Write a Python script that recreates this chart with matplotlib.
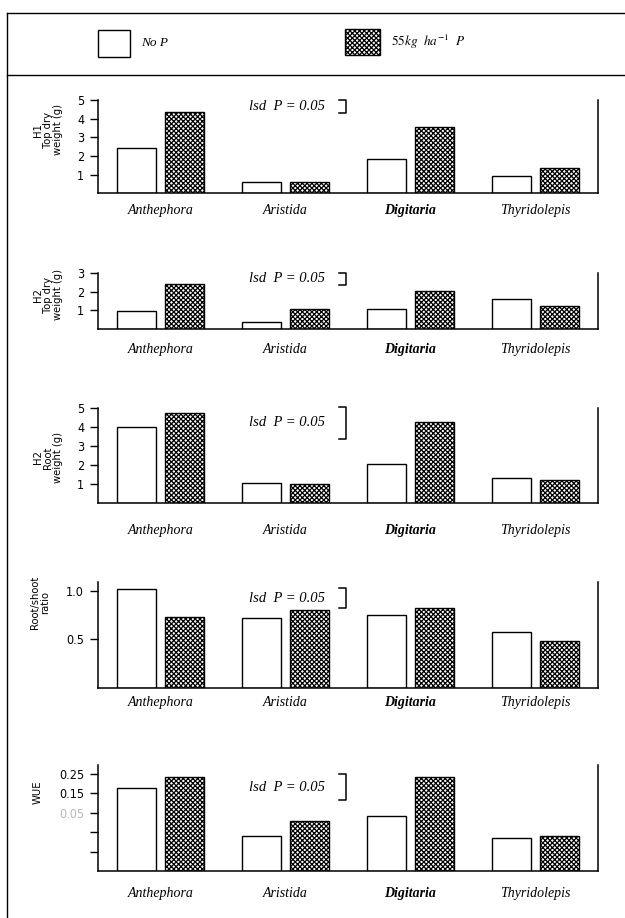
import matplotlib
matplotlib.use("Agg")
import matplotlib.pyplot as plt
from matplotlib.patches import Rectangle
from matplotlib.lines import Line2D

# data
species = ["Anthephora", "Aristida", "Digitaria", "Thyridolepis"]
h1_top_nop = [2.41, 0.62, 1.83, 0.91]
h1_top_p = [4.34, 0.62, 3.57, 1.34]
h2_top_nop = [0.95, 0.38, 1.05, 1.58]
h2_top_p = [2.42, 1.09, 2.05, 1.23]
h2_root_nop = [4.0, 1.04, 2.08, 1.35]
h2_root_p = [4.72, 1.0, 4.25, 1.21]
ratio_nop = [1.02, 0.72, 0.75, 0.58]
ratio_p = [0.73, 0.80, 0.82, 0.48]
wue_nop = [0.212, 0.090, 0.141, 0.084]
wue_p = [0.242, 0.129, 0.242, 0.090]

ylabels = ["H1\nTop dry\nweight (g)", "H2\nTop dry\nweight (g)",
           "H2\nRoot\nweight (g)", "Root/shoot\nratio", "WUE"]
yticks = [[1, 2, 3, 4, 5], [1, 2, 3], [1, 2, 3, 4, 5], [0.5, 1.0],
          [0.05, 0.10, 0.15, 0.20, 0.25]]
yticklabels = [["1", "2", "3", "4", "5"], ["1", "2", "3"],
               ["1", "2", "3", "4", "5"], ["0.5", "1.0"],
               ["", "", "0.05", "0.15", "0.25"]]
ytops = [5.0, 3.0, 5.0, 1.096, 0.272]
lsd = [0.71, 0.66, 1.65, 0.21, 0.066]
lsd_top = [5.0, 3.0, 5.03, 1.03, 0.248]

nop_vals = [h1_top_nop, h2_top_nop, h2_root_nop, ratio_nop, wue_nop]
p_vals = [h1_top_p, h2_top_p, h2_root_p, ratio_p, wue_p]

# layout (figure fractions)
bottoms = [0.7894, 0.6413, 0.4517, 0.2509, 0.0512]
heights = [0.1016, 0.0617, 0.1041, 0.1155, 0.1155]
xpads = [8, 10, 15, 6, 11.5]
ylab_pos = [(-0.07, 0.68), (-0.07, 0.61), (-0.07, 0.48), (-0.096, 0.80), (-0.11, 0.745)]

serif = "Liberation Serif"
plt.rcParams["hatch.linewidth"] = 0.9
plt.rcParams["mathtext.fontset"] = "stix"

W, H = 625, 918
fig = plt.figure(figsize=(6.25, 9.18), dpi=100)

# frame and legend, in pixel units
bg = fig.add_axes([0, 0, 1, 1])
bg.set_xlim(0, W)
bg.set_ylim(H, 0)
bg.axis("off")
bg.add_line(Line2D([7, W], [13, 13], color="black", lw=1.0))
bg.add_line(Line2D([7, W], [75, 75], color="black", lw=1.0))
bg.add_line(Line2D([7, 7], [13, H], color="black", lw=1.0))
bg.add_patch(Rectangle((98, 30), 32, 27, facecolor="white", edgecolor="black", lw=1.0))
bg.add_patch(Rectangle((345, 29), 35, 26, facecolor="white", edgecolor="black",
                       lw=1.0, hatch="xxxxxxx"))
bg.text(141, 43, "No P", family=serif, style="italic", fontsize=9.5, va="center")
bg.text(391, 42, r"$\mathit{55kg\ \ ha^{-1}\ \ P}$", fontsize=9.5, va="center")

xc = [i + 0.5 for i in range(len(species))]
off = 0.19
bw = 0.31

for k in range(5):
    ax = fig.add_axes([0.1568, bottoms[k], 0.8, heights[k]])
    ax.bar([x - off for x in xc], nop_vals[k], bw, color="white",
           edgecolor="black", lw=1.0)
    ax.bar([x + off for x in xc], p_vals[k], bw, color="white",
           edgecolor="black", lw=1.0, hatch="xxxxxxx")
    ax.set_xlim(0, 4)
    ax.set_ylim(0, ytops[k])
    ax.spines["top"].set_visible(False)
    for s in ["left", "right", "bottom"]:
        ax.spines[s].set_linewidth(1.1)
    ax.set_xticks(xc)
    ax.set_xticklabels(species, family=serif, style="italic", fontsize=10)
    ax.get_xticklabels()[2].set_fontweight("bold")
    ax.tick_params(axis="x", length=0, pad=xpads[k])
    ax.set_yticks(yticks[k])
    ax.set_yticklabels(yticklabels[k], family="DejaVu Sans", fontstretch="condensed",
                       fontsize=9)
    ax.tick_params(axis="y", length=6, width=1.0, direction="out", pad=4)
    if k == 4:
        ax.get_yticklabels()[2].set_color("#b8b8b8")
    ax.set_ylabel(ylabels[k], family="DejaVu Sans", fontstretch="condensed",
                  fontsize=8, linespacing=1.0)
    ax.yaxis.set_label_coords(*ylab_pos[k])

    # lsd bracket
    t = lsd_top[k]
    b = t - lsd[k]
    ax.plot([1.93, 1.98, 1.98, 1.93], [t, t, b, b], color="black", lw=1.1,
            clip_on=False)
    ax.text(1.21, (t + b) / 2, "lsd  P = 0.05", family=serif, style="italic",
            fontsize=10.5, va="center", ha="left")

fig.savefig("out.png", dpi=100)
